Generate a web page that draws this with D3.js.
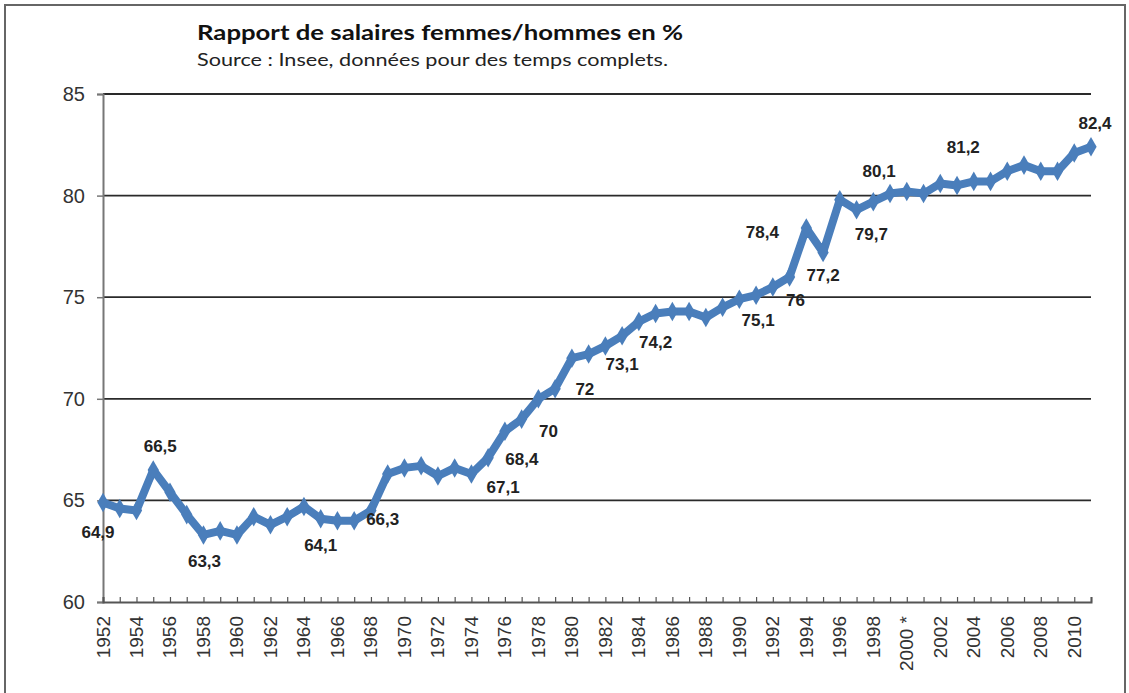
<!DOCTYPE html>
<html>
<head>
<meta charset="utf-8">
<script src="https://cdn.jsdelivr.net/npm/d3@7/dist/d3.min.js"></script>
<style>
  html, body { margin: 0; padding: 0; background: #fff; }
  svg { display: block; }
</style>
</head>
<body>
<svg id="chart" width="1129" height="693"></svg>
<script>
// ---- data ----
const years = d3.range(1952, 2012);
const ratio = [
  64.9, 64.6, 64.5, 66.5, 65.4, 64.3, 63.3, 63.5, 63.3, 64.2,
  63.8, 64.2, 64.7, 64.1, 64.0, 64.0, 64.5, 66.3, 66.6, 66.7,
  66.2, 66.6, 66.3, 67.1, 68.4, 69.0, 70.0, 70.5, 72.0, 72.2,
  72.6, 73.1, 73.8, 74.2, 74.3, 74.3, 74.0, 74.5, 74.9, 75.1,
  75.5, 76.0, 78.4, 77.2, 79.8, 79.3, 79.7, 80.1, 80.2, 80.1,
  80.6, 80.5, 80.7, 80.7, 81.2, 81.5, 81.2, 81.2, 82.1, 82.4
];
const labelYears = [1952, 1955, 1958, 1965, 1969, 1975, 1976, 1978, 1980, 1983, 1985, 1991, 1993, 1994, 1995, 1998, 1999, 2006, 2011];
const labelTexts = ["64,9", "66,5", "63,3", "64,1", "66,3", "67,1", "68,4", "70", "72", "73,1", "74,2", "75,1", "76", "78,4", "77,2", "79,7", "80,1", "81,2", "82,4"];
const xTickYears = d3.range(1952, 2012, 2);
const xTickLabels = xTickYears.map(y => y === 2000 ? "2000 *" : String(y));
const yTicks = [60, 65, 70, 75, 80, 85];
const title = "Rapport de salaires  femmes/hommes en %";
const subtitle = "Source : Insee, données pour des temps complets.";

// ---- layout / style (not data) ----
const labelOffsets = [
  [-5, 30], [7, -23], [1, 27], [0, 27], [-5, 46], [15, 30], [17, 28], [10, 33], [13, 31],
  [0, 29], [0, 29], [2, 25], [6, 24], [-44, 4], [0, 23], [-2, 33], [-11, -22], [-44, -24], [4, -23]
];
const plot = { left: 103, right: 1091, top: 94, bottom: 602 };
const lineColor = "#4A7EBB";

const svg = d3.select("#chart");

// outer frame
svg.append("rect")
  .attr("x", 5).attr("y", 5).attr("width", 1120).attr("height", 700)
  .attr("fill", "none").attr("stroke", "#666").attr("stroke-width", 2);

const x = d3.scaleLinear().domain([1952, 2011]).range([plot.left, plot.right]);
const y = d3.scaleLinear().domain([60, 85]).range([plot.bottom, plot.top]);

// titles
svg.append("text")
  .attr("x", 197).attr("y", 40)
  .attr("font-family", "Lato, 'Open Sans', sans-serif")
  .attr("font-weight", "bold").attr("font-size", 21)
  .attr("textLength", 486).attr("lengthAdjust", "spacingAndGlyphs")
  .attr("fill", "#111")
  .text(title);
svg.append("text")
  .attr("x", 197).attr("y", 66)
  .attr("font-family", "Lato, 'Open Sans', sans-serif")
  .attr("font-size", 18)
  .attr("textLength", 471).attr("lengthAdjust", "spacingAndGlyphs")
  .attr("fill", "#222")
  .text(subtitle);

// gridlines
svg.append("g")
  .selectAll("line")
  .data(yTicks.filter(v => v > 60))
  .join("line")
  .attr("x1", plot.left).attr("x2", plot.right)
  .attr("y1", d => y(d)).attr("y2", d => y(d))
  .attr("stroke", "#2a2a2a").attr("stroke-width", 1.8);

// y axis
const yAxis = svg.append("g")
  .attr("transform", `translate(${plot.left},0)`)
  .call(d3.axisLeft(y).tickValues(yTicks).tickSize(6).tickPadding(12).tickFormat(d3.format("d")));
yAxis.select(".domain").attr("stroke", "#777").attr("stroke-width", 2);
yAxis.selectAll(".tick line").attr("stroke", "#777").attr("stroke-width", 1.5);
yAxis.selectAll(".tick text")
  .attr("font-family", "'Liberation Sans', Arial, sans-serif")
  .attr("font-size", 20).attr("fill", "#333");

// x axis (ticks every year pointing inward)
const xAxis = svg.append("g")
  .attr("transform", `translate(0,${plot.bottom})`)
  .call(d3.axisTop(x).tickValues(years).tickSize(5).tickFormat(""));
xAxis.select(".domain").attr("stroke", "#555").attr("stroke-width", 2);
xAxis.selectAll(".tick line").attr("stroke", "#555").attr("stroke-width", 1.2);

// x labels (every 2 years, rotated)
svg.append("g")
  .selectAll("text")
  .data(xTickYears)
  .join("text")
  .attr("transform", d => `translate(${x(d)},${plot.bottom + 14}) rotate(-90)`)
  .attr("text-anchor", "end")
  .attr("dominant-baseline", "central")
  .attr("font-family", "'Liberation Sans', Arial, sans-serif")
  .attr("font-size", 19).attr("fill", "#333")
  .text((d, i) => xTickLabels[i]);

// line
const pts = years.map((yr, i) => [yr, ratio[i]]);
svg.append("path")
  .datum(pts)
  .attr("fill", "none")
  .attr("stroke", lineColor)
  .attr("stroke-width", 8)
  .attr("stroke-linejoin", "round")
  .attr("d", d3.line().x(d => x(d[0])).y(d => y(d[1])));

// markers
svg.append("g")
  .selectAll("path")
  .data(pts)
  .join("path")
  .attr("transform", d => `translate(${x(d[0])},${y(d[1])})`)
  .attr("d", d3.symbol().type(d3.symbolDiamond).size(110))
  .attr("fill", lineColor);

// data labels
svg.append("g")
  .selectAll("text")
  .data(labelYears)
  .join("text")
  .attr("x", (d, i) => x(d) + labelOffsets[i][0])
  .attr("y", (d, i) => y(ratio[years.indexOf(d)]) + labelOffsets[i][1])
  .attr("text-anchor", "middle")
  .attr("dominant-baseline", "central")
  .attr("font-family", "'Liberation Sans', Arial, sans-serif")
  .attr("font-weight", "bold").attr("font-size", 17)
  .attr("fill", "#222")
  .text((d, i) => labelTexts[i]);
</script>
</body>
</html>
